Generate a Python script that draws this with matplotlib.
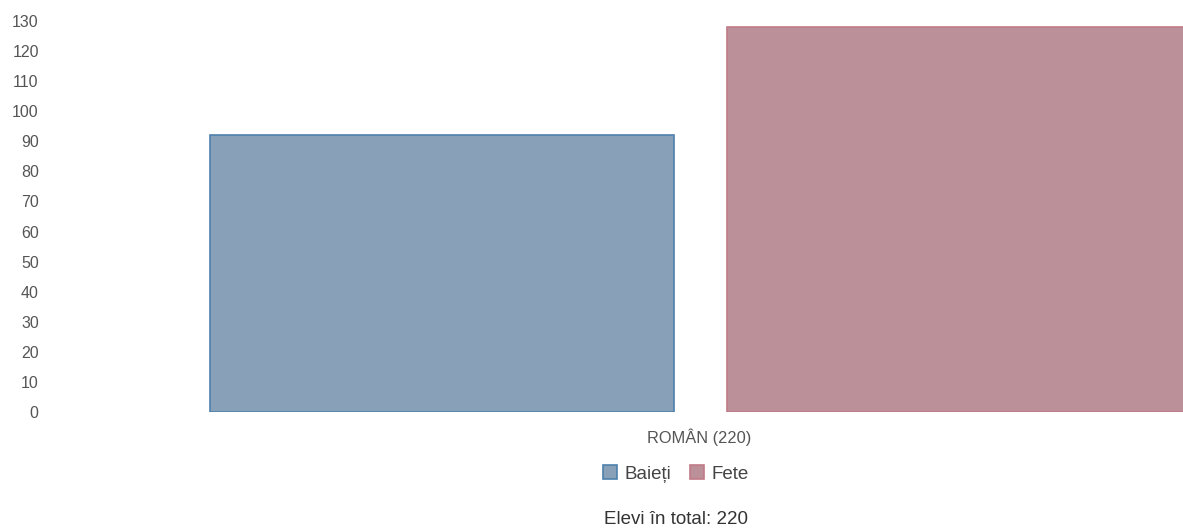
import matplotlib
matplotlib.use("Agg")
import matplotlib.pyplot as plt
from matplotlib.patches import Patch
import numpy as np

categories = ["ROMÂN (220)"]
series_names = ["Baieți", "Fete"]
boys = [92]
girls = [128]
yticks = list(range(0, 131, 10))
total_label = "Elevi în total: 220"

fill_colors = ["#88a1b8", "#bc9099"]
edge_colors = ["#4f80ad", "#c17b88"]

W, H = 1183, 531
fig = plt.figure(figsize=(W / 100, H / 100), dpi=100)
plt.rcParams['font.family'] = ['Liberation Sans', 'DejaVu Sans']

ax_left, ax_right = 45, 1183
ax_top, ax_bottom = 21, 412
ax = fig.add_axes([ax_left / W, (H - ax_bottom) / H, (ax_right - ax_left) / W, (ax_bottom - ax_top) / H])

x = np.arange(len(categories))
width = 0.4
gap = 0.0457
ax.bar(x - (width + gap) / 2, boys, width, color=fill_colors[0], edgecolor=edge_colors[0], linewidth=1.2)
ax.bar(x + (width + gap) / 2, girls, width, color=fill_colors[1], edgecolor=edge_colors[1], linewidth=1.2)

ax.set_ylim(0, 130)
ax.set_xlim(-0.565, 0.416)
ax.set_yticks(yticks)
ax.set_yticklabels([str(t) for t in yticks], fontsize=11.5, color="#555555")
ax.tick_params(axis="y", length=0, pad=4.5)
ax.set_xticks(x + 0.0)
ax.set_xticklabels([])
ax.tick_params(axis="x", length=0)
for s in ax.spines.values():
    s.set_visible(False)

# category label
fig.text(699 / W, 1 - 437 / H, categories[0], ha="center", va="center", fontsize=11.8, color="#555555")

handles = [Patch(facecolor=fill_colors[i], edgecolor=edge_colors[i], linewidth=1.2) for i in range(2)]
fig.legend(handles, series_names, loc="center", bbox_to_anchor=(676 / W, 1 - 474 / H), ncol=2,
           frameon=False, fontsize=13.5, handlelength=0.75, handleheight=0.75, handletextpad=0.4,
           columnspacing=1.0, labelcolor="#444444")

fig.text(676 / W, 1 - 520 / H, total_label, ha="center", va="center", fontsize=13.5, color="#333333")

fig.savefig("out.png", dpi=100)
